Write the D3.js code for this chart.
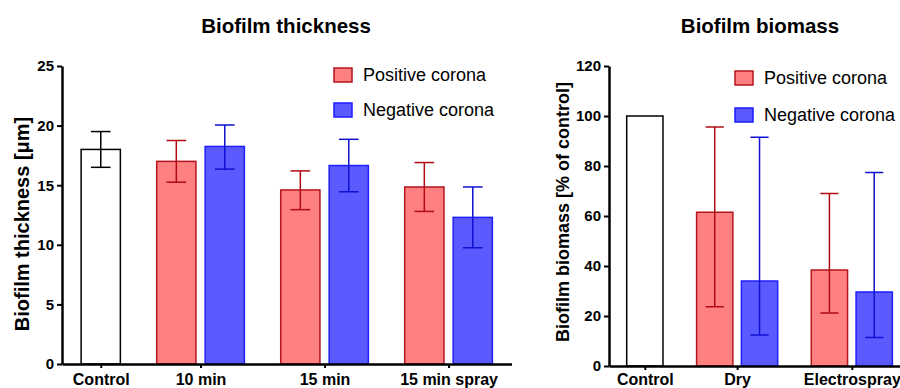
<!DOCTYPE html>
<html lang="en">
<head>
<meta charset="UTF-8">
<script src="https://d3js.org/d3.v7.min.js"></script>
<style>
body {margin: 0; background: white;}
svg {display: block; font-family: "Liberation Sans", Arial, sans-serif;}
.title {font-weight: bold; font-size: 20.5px;}
.ylab {font-weight: bold;}
.axis path, .axis line {stroke: black;}
.yaxis text {font-weight: bold; font-size: 15px; fill: black;}
.xaxis text {font-weight: bold; font-size: 16px; fill: black;}
.legend text {font-size: 18px;}
</style>
</head>
<body>
<svg width="900" height="388"></svg>
<script>
// thickness panel
const thickCategories = ["Control", "10 min", "15 min", "15 min spray"];
const thickControl = [18.0, 16.5, 19.5]; // mean, low, high
const thickPositive = [17.0, 14.6, 14.85];
const thickPositiveLow = [15.25, 12.95, 12.8];
const thickPositiveHigh = [18.75, 16.2, 16.9];
const thickNegative = [18.25, 16.65, 12.3];
const thickNegativeLow = [16.35, 14.45, 9.75];
const thickNegativeHigh = [20.05, 18.85, 14.85];
const thickTicks = [0, 5, 10, 15, 20, 25];

// biomass panel
const bioCategories = ["Control", "Dry", "Electrospray"];
const bioControl = [100, 100, 100];
const bioPositive = [61.5, 38.4];
const bioPositiveLow = [23.7, 21.2];
const bioPositiveHigh = [95.6, 69.0];
const bioNegative = [34.0, 29.6];
const bioNegativeLow = [12.4, 11.4];
const bioNegativeHigh = [91.5, 77.4];
const bioTicks = [0, 20, 40, 60, 80, 100, 120];

const seriesNames = ["Positive corona", "Negative corona"];

const styles = {
  control: {fill: "white", stroke: "black", err: "black"},
  pos: {fill: "#ff8080", stroke: "#b4141e", err: "#b00a14"},
  neg: {fill: "#5a5aff", stroke: "#1e1eff", err: "#1010d0"}
};

const svg = d3.select("svg");

function panel(opt) {
  const gap = 0.56, barW = 0.81;
  // slot positions: control at 0, then pairs
  const bars = [{slot: 0, mean: opt.control[0], lo: opt.control[1], hi: opt.control[2], s: styles.control}];
  const tickPos = [0];
  let s = 1 + gap;
  opt.pos.forEach((v, i) => {
    bars.push({slot: s, mean: v, lo: opt.posLow[i], hi: opt.posHigh[i], s: styles.pos});
    bars.push({slot: s + 1, mean: opt.neg[i], lo: opt.negLow[i], hi: opt.negHigh[i], s: styles.neg});
    tickPos.push(s + 0.5);
    s += 2 + gap;
  });
  const last = s - gap - 1;
  const x = d3.scaleLinear().domain([-0.8, last + 0.8])
    .range([opt.x0, opt.x0 + (last + 1.6) * opt.unit]);
  const y = d3.scaleLinear().domain(opt.domain).range([opt.y0, 66]);
  const bw = barW * opt.unit;

  const g = svg.append("g");

  g.selectAll("rect.bar").data(bars).join("rect")
    .attr("class", "bar")
    .attr("x", d => x(d.slot) - bw / 2)
    .attr("width", bw)
    .attr("y", d => y(d.mean))
    .attr("height", d => y(0) - y(d.mean))
    .attr("fill", d => d.s.fill)
    .attr("stroke", d => d.s.stroke)
    .attr("stroke-width", 1.5);

  // no whiskers where there is no spread (normalised control)
  const err = g.selectAll("g.err").data(bars.filter(d => d.hi > d.lo)).join("g")
    .attr("class", "err")
    .attr("stroke", d => d.s.err)
    .attr("stroke-width", 1.5);
  err.append("line")
    .attr("x1", d => x(d.slot)).attr("x2", d => x(d.slot))
    .attr("y1", d => y(d.lo)).attr("y2", d => y(d.hi));
  err.append("line")
    .attr("x1", d => x(d.slot) - bw / 4).attr("x2", d => x(d.slot) + bw / 4)
    .attr("y1", d => y(d.hi)).attr("y2", d => y(d.hi));
  err.append("line")
    .attr("x1", d => x(d.slot) - bw / 4).attr("x2", d => x(d.slot) + bw / 4)
    .attr("y1", d => y(d.lo)).attr("y2", d => y(d.lo));

  g.append("g").attr("class", "axis yaxis")
    .attr("transform", "translate(" + opt.x0 + ",0)")
    .call(d3.axisLeft(y).tickValues(opt.ticks).tickSize(5).tickSizeOuter(0).tickPadding(3))
    .call(a => a.select(".domain").attr("stroke-width", 2.5))
    .call(a => a.selectAll(".tick line").attr("stroke-width", 2));

  g.append("g").attr("class", "axis xaxis")
    .attr("transform", "translate(0," + opt.y0 + ")")
    .call(d3.axisBottom(x).tickValues(tickPos).tickFormat((d, i) => opt.cats[i])
      .tickSize(4).tickSizeOuter(0).tickPadding(opt.xPad))
    .call(a => a.select(".domain").attr("stroke-width", 2.5))
    .call(a => a.selectAll(".tick line").attr("stroke-width", 2));

  g.append("text").attr("class", "title")
    .attr("x", opt.titleX).attr("y", 33)
    .attr("text-anchor", "middle")
    .text(opt.title);

  g.append("text").attr("class", "ylab")
    .attr("transform", "translate(" + opt.labX + "," + opt.labY + ") rotate(-90)")
    .attr("text-anchor", "middle")
    .style("font-size", opt.labSize + "px")
    .text(opt.ylabel);

  const leg = g.append("g").attr("class", "legend");
  [styles.pos, styles.neg].forEach((st, i) => {
    leg.append("rect")
      .attr("x", opt.legX).attr("y", opt.legY + i * opt.legStep)
      .attr("width", 18).attr("height", 14)
      .attr("fill", st.fill).attr("stroke", st.stroke).attr("stroke-width", 1.5);
    leg.append("text")
      .attr("x", opt.legX + 29).attr("y", opt.legY + i * opt.legStep + 13)
      .text(seriesNames[i]);
  });
}

panel({
  cats: thickCategories, control: thickControl,
  pos: thickPositive, posLow: thickPositiveLow, posHigh: thickPositiveHigh,
  neg: thickNegative, negLow: thickNegativeLow, negHigh: thickNegativeHigh,
  ticks: thickTicks, domain: [0, 25],
  x0: 62, unit: 48.44, y0: 364, xPad: 6,
  title: "Biofilm thickness", titleX: 286,
  ylabel: "Biofilm thickness [\u03bcm]", labX: 29, labY: 224, labSize: 20,
  legX: 334, legY: 68, legStep: 35
});

panel({
  cats: bioCategories, control: bioControl,
  pos: bioPositive, posLow: bioPositiveLow, posHigh: bioPositiveHigh,
  neg: bioNegative, negLow: bioNegativeLow, negHigh: bioNegativeHigh,
  ticks: bioTicks, domain: [0, 120],
  x0: 609, unit: 44.8, y0: 366, xPad: 4,
  title: "Biofilm biomass", titleX: 760,
  ylabel: "Biofilm biomass [% of control]", labX: 569, labY: 212, labSize: 18,
  legX: 735, legY: 71, legStep: 37
});
</script>
</body>
</html>
